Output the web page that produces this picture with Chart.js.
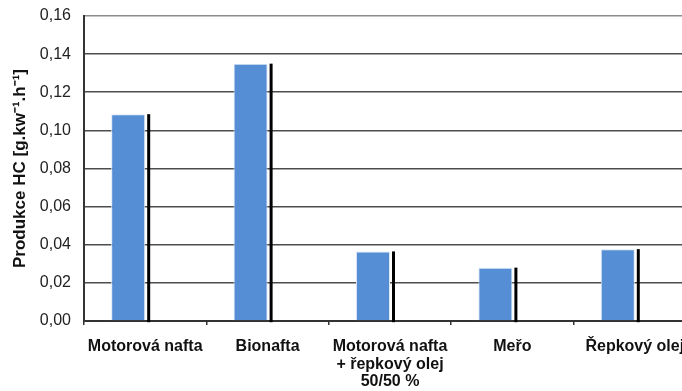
<!DOCTYPE html>
<html>
<head>
<meta charset="utf-8">
<script src="https://cdn.jsdelivr.net/npm/chart.js@4/dist/chart.umd.min.js"></script>
<style>
  html, body { margin: 0; padding: 0; background: #fff; overflow: hidden; }
  #wrap { width: 700px; height: 391px; position: relative; }
</style>
</head>
<body>
<div id="wrap"><canvas id="c"></canvas></div>
<script>
const categories = [
  "Motorová nafta",
  "Bionafta",
  ["Motorová nafta", "+ řepkový olej", "50/50 %"],
  "Meřo",
  "Řepkový olej"
];
const hcValues = [0.1085, 0.135, 0.0365, 0.028, 0.0377];
const emptySeries = [null, null, null, null, null];
const yTicks = [0, 0.02, 0.04, 0.06, 0.08, 0.10, 0.12, 0.14, 0.16];
const yTitle = "Produkce HC [g.kw⁻¹.h⁻¹]";

const shadowLine = {
  id: 'shadowLine',
  afterDatasetsDraw(chart) {
    const ctx = chart.ctx;
    const meta = chart.getDatasetMeta(0);
    ctx.save();
    ctx.fillStyle = '#000';
    meta.data.forEach(el => {
      const p = el.getProps(['x', 'y', 'base', 'width'], true);
      const xr = p.x + p.width / 2 + 2;
      ctx.fillRect(xr, p.y, 3, p.base - p.y + 2);
    });
    ctx.restore();
  }
};

new Chart(document.getElementById('c'), {
  type: 'bar',
  data: {
    labels: categories,
    datasets: [
      { data: hcValues, backgroundColor: '#558ed5', borderColor: '#dbe6f5', borderWidth: 1 },
      { data: emptySeries, backgroundColor: '#000' }
    ]
  },
  plugins: [shadowLine],
  options: {
    responsive: true,
    maintainAspectRatio: false,
    animation: false,
    events: [],
    layout: { padding: { top: 16, right: 4, left: 0, bottom: 0 } },
    plugins: { legend: { display: false }, tooltip: { enabled: false } },
    datasets: { bar: { categoryPercentage: 0.556, barPercentage: 1.0 } },
    scales: {
      x: {
        afterFit(s) { s.height = 70; s.paddingLeft = 0; s.paddingRight = 0; },
        grid: { drawOnChartArea: false, drawTicks: true, tickLength: 4, color: '#333', lineWidth: 1.5 },
        border: { color: '#333', width: 2 },
        ticks: {
          color: '#111',
          padding: 13,
          maxRotation: 0,
          autoSkip: false,
          font: { family: 'Liberation Sans, Arial, sans-serif', size: 16, weight: 'bold', lineHeight: 1.1 }
        }
      },
      y: {
        min: 0, max: 0.16,
        afterFit(s) { s.width = 84; s.paddingTop = 0; s.paddingBottom = 0; },
        afterBuildTicks(s) { s.ticks = yTicks.map(v => ({ value: v })); },
        grid: {
          drawTicks: false,
          color: ctx => (ctx.tick && ctx.tick.value === 0.16) ? '#8c8c8c' : '#4d4d4d',
          lineWidth: 1.6
        },
        border: { color: '#333', width: 2 },
        ticks: {
          color: '#222',
          padding: 13,
          callback: v => Number(v).toFixed(2).replace('.', ','),
          font: { family: 'Liberation Sans, Arial, sans-serif', size: 16 }
        },
        title: {
          display: true,
          text: yTitle,
          color: '#111',
          padding: { top: 10, bottom: 0 },
          font: { family: 'Liberation Sans, Arial, sans-serif', size: 17, weight: 'bold' }
        }
      }
    }
  }
});
</script>
</body>
</html>
